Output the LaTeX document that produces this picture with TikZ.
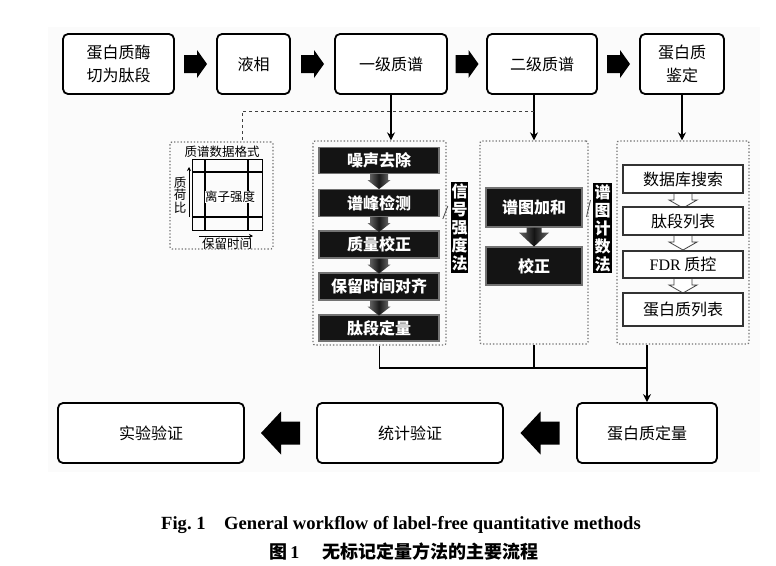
\documentclass[tikz,border=0pt]{standalone}
\usepackage{fontspec}
\setmainfont{Noto Sans CJK SC}
\newfontfamily\tnr{Liberation Serif}
\usetikzlibrary{calc,arrows.meta}
\begin{document}
\begin{tikzpicture}[x=1pt,y=-1pt,
  topbox/.style={draw, line width=1.8pt, rounded corners=5pt, fill=white, align=center, inner sep=0pt, font=\fontsize{16}{23}\selectfont},
  blkbox/.style={fill=black!92, draw=black!55, line width=1.2pt, text=white, inner sep=0pt, font=\bfseries\fontsize{16}{19}\selectfont},
  whtbox/.style={draw=black!80, line width=1.6pt, fill=white, inner sep=0pt, font=\fontsize{16}{19}\selectfont},
  dotbox/.style={draw=black!55, dotted, line width=1.3pt, rounded corners=2pt, inner sep=0pt},
  vlabel/.style={fill=black, text=white, align=center, inner sep=0pt, font=\bfseries\fontsize{16}{18}\selectfont},
  conn/.style={line width=1.5pt, -{Stealth[length=8pt,width=8pt]}},
  plain/.style={line width=1.5pt},
  thinarr/.style={line width=0.6pt, -{Stealth[length=4pt,width=4pt]}},
  smalltxt/.style={inner sep=0pt, font=\fontsize{12.5}{13}\selectfont},
  rarrowpic/.pic={\fill (-11.5,-9) -- (1.5,-9) -- (1.5,-14) -- (11.5,0) -- (1.5,14) -- (1.5,9) -- (-11.5,9) -- cycle;},
  larrowpic/.pic={\fill (19.5,-11.5) -- (0.5,-11.5) -- (0.5,-21.5) -- (-19.5,0) -- (0.5,21.5) -- (0.5,11.5) -- (19.5,11.5) -- cycle;},
  greydown/.pic={\shade[left color=black!55, right color=black!55, middle color=black!90] (-9,0) -- (9,0) -- (9,6) -- (11.5,6) -- (0,15) -- (-11.5,6) -- (-9,6) -- cycle;},
  bigdown/.pic={\shade[left color=black!60, right color=black!60, middle color=black!92] (-7.5,0) -- (7.5,0) -- (7.5,5) -- (15,5) -- (0,19) -- (-15,5) -- (-7.5,5) -- cycle;},
  hollowdown/.pic={\filldraw[fill=white, draw=black!75, line width=0.8pt] (-9,0) -- (9,0) -- (9,7) -- (14,7) -- (0,15) -- (-14,7) -- (-9,7) -- cycle;}
]
\useasboundingbox (0,0) rectangle (776,565);
\fill[black!1.5] (48,27) rectangle (760,472);

% top row
\node[topbox, minimum width=111pt, minimum height=60pt] (b1) at (118.5,64) {蛋白质酶\\切为肽段};
\node[topbox, minimum width=73pt, minimum height=60pt] (b2) at (253.5,64) {液相};
\node[topbox, minimum width=112pt, minimum height=60pt] (b3) at (391,64) {一级质谱};
\node[topbox, minimum width=110pt, minimum height=60pt] (b4) at (542,64) {二级质谱};
\node[topbox, minimum width=84pt, minimum height=60pt] (b5) at (682,64) {蛋白质\\鉴定};
\pic at ($(b1.east)!0.5!(b2.west)$) {rarrowpic};
\pic at ($(b2.east)!0.5!(b3.west)$) {rarrowpic};
\pic at ($(b3.east)!0.5!(b4.west)$) {rarrowpic};
\pic at ($(b4.east)!0.5!(b5.west)$) {rarrowpic};

% dotted group boxes
\node[dotbox, minimum width=103pt, minimum height=107pt] (fmt) at (221.5,195.5) {};
\node[dotbox, minimum width=133pt, minimum height=204pt] (d1) at (379.5,243) {};
\node[dotbox, minimum width=108pt, minimum height=203pt] (d2) at (534,242.5) {};
\node[dotbox, minimum width=132pt, minimum height=203pt] (d3) at (683,242.5) {};

% connectors from top
\draw[conn] (b3.south) -- (b3.south |- d1.north);
\draw[conn] (b4.south -| d2.north) -- (d2.north);
\draw[conn] (b5.south) -- (b5.south |- d3.north);
\coordinate (dj) at (534,111);
\coordinate (dk) at (242,111);
\draw[dashed, black!75, line width=0.7pt] (dj) -- (dk) -- (dk |- fmt.north);

% data format box
\node[smalltxt] (fmttitle) at (222,152) {质谱数据格式};
\draw[line width=0.6pt] (192,159) rectangle (262,230);
\draw[line width=2.4pt] (205,159) -- (205,230) (248,159) -- (248,230) (192,172) -- (262,172) (192,217) -- (262,217);
\node[smalltxt, fill=white, inner sep=0.5pt] (ion) at (230,197) {离子强度};
\node[smalltxt, align=center, font=\fontsize{12.5}{12.5}\selectfont] (mz) at (180,195) {质\\荷\\比};
\node[smalltxt] (rt) at (227,244) {保留时间};
\draw[thinarr] (189,217) -- (189,167);
\draw[thinarr] (199,236) -- (253,236);

% signal intensity group
\node[blkbox, minimum width=120pt, minimum height=26pt] (k1) at (379,160.5) {噪声去除};
\node[blkbox, minimum width=120pt, minimum height=27pt] (k2) at (379,203) {谱峰检测};
\node[blkbox, minimum width=120pt, minimum height=27pt] (k3) at (379,244.5) {质量校正};
\node[blkbox, minimum width=120pt, minimum height=27pt] (k4) at (379,286.5) {保留时间对齐};
\node[blkbox, minimum width=120pt, minimum height=26pt] (k5) at (379,328) {肽段定量};
\pic at (k1.south) {greydown};
\pic at (k2.south) {greydown};
\pic at (k3.south) {greydown};
\pic at (k4.south) {greydown};
\node[vlabel, minimum width=17pt, minimum height=91pt] (L1) at (459.5,227.5) {信\\号\\强\\度\\法};
\draw[black!70, line width=0.8pt] ($(L1.west)+(-8,-8.5)$) -- ($(L1.west)+(-3,-21.5)$);

% spectral counting group
\node[blkbox, minimum width=96pt, minimum height=39pt] (g1) at (534,207.5) {谱图加和};
\node[blkbox, minimum width=96pt, minimum height=38pt] (g2) at (534,266) {校正};
\pic at (g1.south) {bigdown};
\node[vlabel, minimum width=19pt, minimum height=90pt] (L2) at (602.5,228) {谱\\图\\计\\数\\法};
\draw[black!70, line width=0.8pt] ($(L2.west)+(-6.3,-11.3)$) -- ($(L2.west)+(-2.3,-28)$);

% identification group
\pic at (683,193) {hollowdown};
\pic at (683,235) {hollowdown};
\pic at (683,278) {hollowdown};
\node[whtbox, minimum width=120pt, minimum height=28pt] (w1) at (683,179) {数据库搜索};
\node[whtbox, minimum width=120pt, minimum height=28pt] (w2) at (683,221) {肽段列表};
\node[whtbox, minimum width=120pt, minimum height=27pt] (w3) at (683,264.5) {{\tnr FDR} 质控};
\node[whtbox, minimum width=120pt, minimum height=33pt] (w4) at (683,309.5) {蛋白质列表};

% bottom row
\node[topbox, minimum width=186pt, minimum height=60pt] (c1) at (151,433) {实验验证};
\node[topbox, minimum width=186pt, minimum height=60pt] (c2) at (410,433) {统计验证};
\node[topbox, minimum width=140pt, minimum height=60pt] (c3) at (647,433) {蛋白质定量};
\pic at ($(c1.east)!0.5!(c2.west)$) {larrowpic};
\pic at ($(c2.east)!0.5!(c3.west)$) {larrowpic};

% merging connectors
\coordinate (j3) at (647,368);
\draw[plain] (d1.south) -- (d1.south |- j3) -- (j3);
\draw[plain] (d2.south) -- (d2.south |- j3);
\draw[conn] (j3 |- d3.south) -- (j3) -- (c3.north);

% captions
\node[inner sep=0pt] (capen) at (401,525) {\tnr\bfseries\fontsize{18.6}{20}\selectfont Fig.\ 1\hspace{1em}General workflow of label-free quantitative methods};
\node[inner sep=0pt] (capzh) at (404,552) {\bfseries\fontsize{18}{20}\selectfont 图\,{\tnr 1}\hspace{1.3em}无标记定量方法的主要流程};
\end{tikzpicture}
\end{document}
